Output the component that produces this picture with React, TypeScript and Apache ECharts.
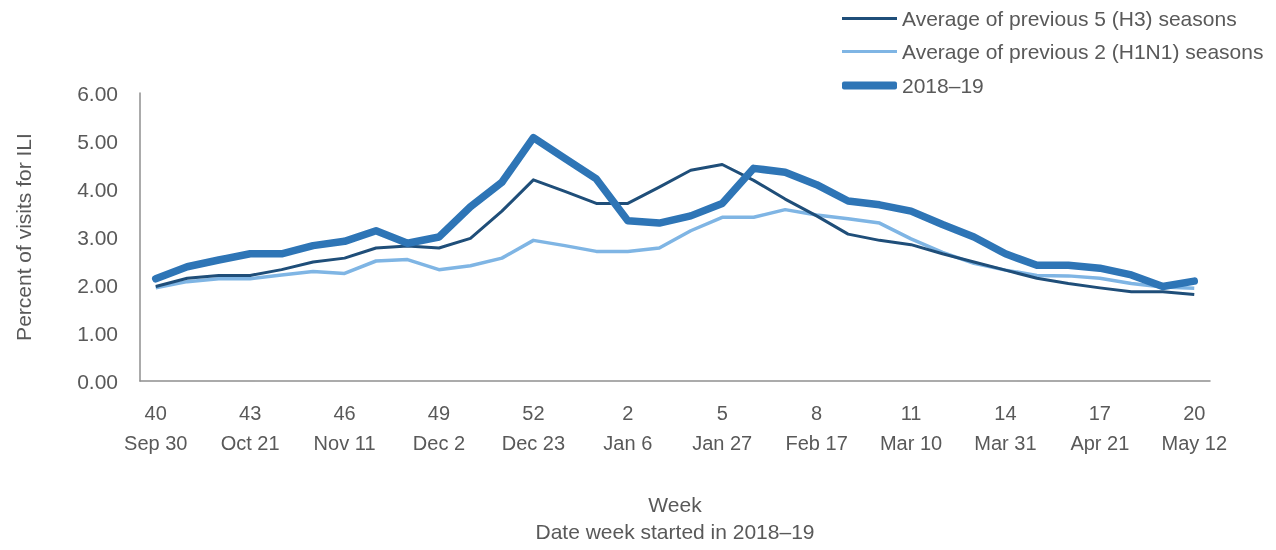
import React, { useEffect, useRef } from "react";
import * as echarts from "echarts";

const weeks = [
  "40", "41", "42", "43", "44", "45", "46", "47", "48", "49", "50", "51", "52", "53",
  "1", "2", "3", "4", "5", "6", "7", "8", "9", "10", "11", "12", "13", "14", "15", "16", "17", "18", "19", "20",
];

const tickDates: Record<string, string> = {
  "40": "Sep 30", "43": "Oct 21", "46": "Nov 11", "49": "Dec 2", "52": "Dec 23", "2": "Jan 6",
  "5": "Jan 27", "8": "Feb 17", "11": "Mar 10", "14": "Mar 31", "17": "Apr 21", "20": "May 12",
};

const avgH3 = [
  1.97, 2.14, 2.20, 2.20, 2.32, 2.48, 2.56, 2.77, 2.81, 2.77, 2.97, 3.54, 4.19, 3.95,
  3.70, 3.70, 4.04, 4.39, 4.51, 4.18, 3.79, 3.44, 3.06, 2.93, 2.84, 2.65, 2.48, 2.31, 2.14, 2.03, 1.94, 1.86, 1.86, 1.80,
];

const avgH1N1 = [
  1.94, 2.07, 2.13, 2.13, 2.21, 2.28, 2.24, 2.50, 2.53, 2.32, 2.40, 2.56, 2.93, 2.82,
  2.70, 2.70, 2.77, 3.13, 3.41, 3.41, 3.57, 3.46, 3.38, 3.29, 2.96, 2.68, 2.45, 2.31, 2.20, 2.19, 2.14, 2.03, 1.96, 1.93,
];

const season1819 = [
  2.13, 2.38, 2.52, 2.65, 2.65, 2.82, 2.91, 3.13, 2.87, 3.00, 3.63, 4.14, 5.07, 4.64,
  4.21, 3.34, 3.29, 3.44, 3.70, 4.43, 4.35, 4.09, 3.75, 3.67, 3.54, 3.26, 3.00, 2.65, 2.41, 2.41, 2.35, 2.21, 1.97, 2.08,
];

const NAME_H3 = "Average of previous 5 (H3) seasons";
const NAME_H1 = "Average of previous 2 (H1N1) seasons";
const NAME_CUR = "2018\u201319";

const FONT = "'Liberation Sans', Arial, sans-serif";
const TEXT = "#595959";

export default function App() {
  const ref = useRef<HTMLDivElement>(null);
  useEffect(() => {
    if (!ref.current) return;
    const chart = echarts.init(ref.current, undefined, { renderer: "svg" });
    const legendText = { color: TEXT, fontSize: 21, fontFamily: FONT };
    const legendBase = { left: 842, padding: 0, itemWidth: 55, itemGap: 0, textStyle: legendText };
    chart.setOption({
      animation: false,
      textStyle: { fontFamily: FONT },
      grid: { left: 140, right: 66, top: 93, bottom: 163, containLabel: false },
      legend: [
        { ...legendBase, data: [NAME_H3], top: 8, icon: "rect", itemHeight: 3 },
        { ...legendBase, data: [NAME_H1], top: 41, icon: "rect", itemHeight: 3 },
        { ...legendBase, data: [NAME_CUR], top: 75, icon: "roundRect", itemHeight: 8 },
      ],
      xAxis: {
        type: "category",
        data: weeks,
        boundaryGap: true,
        axisLine: { show: true, lineStyle: { color: "#8f8f8f", width: 1.5 } },
        axisTick: { show: false },
        splitLine: { show: false },
        axisLabel: {
          interval: 2,
          margin: 17,
          color: TEXT,
          fontSize: 20,
          lineHeight: 30,
          fontFamily: FONT,
          formatter: (v: string) => `${v}\n${tickDates[v] ?? ""}`,
        },
        name: "Week\nDate week started in 2018\u201319",
        nameLocation: "middle",
        nameGap: 110,
        nameTextStyle: { color: TEXT, fontSize: 21, lineHeight: 27, fontFamily: FONT },
      },
      yAxis: {
        type: "value",
        min: 0,
        max: 6,
        interval: 1,
        axisLine: { show: true, lineStyle: { color: "#8f8f8f", width: 1.5 } },
        axisTick: { show: false },
        splitLine: { show: false },
        axisLabel: {
          margin: 22,
          color: TEXT,
          fontSize: 21,
          fontFamily: FONT,
          formatter: (v: number) => v.toFixed(2),
        },
        name: "Percent of visits for ILI",
        nameLocation: "middle",
        nameGap: 106,
        nameRotate: 90,
        nameTextStyle: { color: TEXT, fontSize: 21, fontFamily: FONT },
      },
      series: [
        {
          name: NAME_H3,
          type: "line",
          data: avgH3,
          symbol: "none",
          color: "#1F4E79",
          lineStyle: { width: 3, color: "#1F4E79", join: "round" },
          z: 2,
        },
        {
          name: NAME_H1,
          type: "line",
          data: avgH1N1,
          symbol: "none",
          color: "#7FB5E4",
          lineStyle: { width: 3.5, color: "#7FB5E4", join: "round" },
          z: 1,
        },
        {
          name: NAME_CUR,
          type: "line",
          data: season1819,
          symbol: "none",
          color: "#2E75B6",
          lineStyle: { width: 7.5, color: "#2E75B6", cap: "round", join: "round" },
          z: 3,
        },
      ],
    });
    return () => chart.dispose();
  }, []);
  return <div ref={ref} style={{ position: "fixed", left: 0, top: 0, width: 1276, height: 550 }} />;
}
